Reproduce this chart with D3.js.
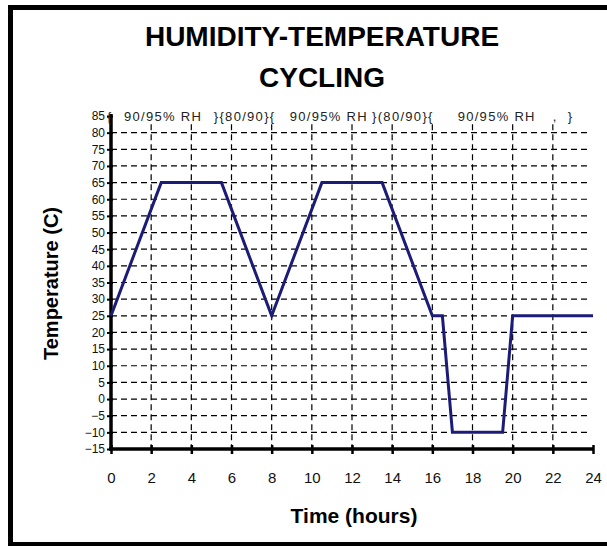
<!DOCTYPE html>
<html>
<head>
<meta charset="utf-8">
<script src="https://cdn.jsdelivr.net/npm/d3@7"></script>
<style>
  body { margin: 0; background: #fff; }
  svg { display: block; font-family: Arial, "Liberation Sans", sans-serif; }
</style>
</head>
<body>
<svg id="chart" width="607" height="546"></svg>
<script>
// chart values
var hours = [0, 2.5, 5.5, 8, 10.5, 13.5, 16, 16.5, 17, 19.5, 20, 24]
var temps = [25, 65, 65, 25, 65, 65, 25, 25, -10, -10, 25, 25]
var xTicks = [0, 2, 4, 6, 8, 10, 12, 14, 16, 18, 20, 22, 24]
var yTicks = [-15, -10, -5, 0, 5, 10, 15, 20, 25, 30, 35, 40, 45, 50, 55, 60, 65, 70, 75, 80, 85]
var titleLines = ['HUMIDITY-TEMPERATURE', 'CYCLING']
// humidity notes along the top row (hour where each piece starts)
var rhText = ['{', '90/95% RH', '}{80/90}{', '90/95% RH', '}(80/90}{', '90/95% RH', ',', '}']
var rhHour = [-0.2, 0.65, 5.12, 8.9, 13.0, 17.26, 22.0, 22.74]

var svg = d3.select('#chart')

// outer frame (right side runs off the picture)
svg.append('rect')
  .attr('x', 10.5).attr('y', 7.5)
  .attr('width', 620).attr('height', 537)
  .attr('fill', 'none').attr('stroke', '#000').attr('stroke-width', 5)

var x = d3.scaleLinear().domain([0, 24]).range([111, 593])
var y = d3.scaleLinear().domain([-15, 85]).range([449, 116])

svg.selectAll('text.title')
  .data(titleLines)
  .enter().append('text')
  .attr('class', 'title')
  .attr('x', 322)
  .attr('y', (d, i) => 46 + i * 41)
  .attr('text-anchor', 'middle')
  .attr('font-size', 28).attr('font-weight', 'bold')
  .text((d) => d)

// grid
var grid = svg.append('g').attr('stroke', '#000').attr('stroke-width', 1.2).attr('stroke-dasharray', '6,4')
grid.selectAll('line.h')
  .data(yTicks.filter((v) => v > -15 && v < 85))
  .enter().append('line')
  .attr('x1', x(0)).attr('x2', x(24) - 2)
  .attr('y1', (d) => y(d)).attr('y2', (d) => y(d))
grid.selectAll('line.v')
  .data(xTicks.filter((v) => v > 0 && v < 24))
  .enter().append('line')
  .attr('x1', (d) => x(d)).attr('x2', (d) => x(d))
  .attr('y1', y(82.5)).attr('y2', y(-15))

// axes
var yAxis = svg.append('g').attr('transform', `translate(${x(0)},0)`)
  .call(d3.axisLeft(y).tickValues(yTicks).tickSize(4).tickPadding(2))
yAxis.select('.domain').attr('stroke-width', 3.5).attr('d', `M0,${y(85) - 2}V${y(-15)}`)
yAxis.selectAll('.tick line').attr('stroke-width', 2).attr('x2', -4).attr('x1', 2)
yAxis.selectAll('.tick text').attr('font-size', 12).attr('font-family', 'Arial, sans-serif').attr('fill', '#111')

var xAxis = svg.append('g').attr('transform', `translate(0,${y(-15)})`)
  .call(d3.axisBottom(x).tickValues(xTicks).tickSize(5).tickPadding(18))
xAxis.select('.domain').attr('stroke-width', 3.5).attr('d', `M${x(0) - 2},0H${x(24) + 1}`)
xAxis.selectAll('.tick line').attr('stroke-width', 2.5).attr('y1', -4).attr('y2', 5)
xAxis.selectAll('.tick text').attr('font-size', 15).attr('font-family', 'Arial, sans-serif').attr('fill', '#111')

// humidity notes (drawn over the axis so the first brace shows)
svg.selectAll('text.rh')
  .data(rhText)
  .enter().append('text')
  .attr('class', 'rh')
  .attr('x', (d, i) => x(rhHour[i]))
  .attr('y', y(85) + 5)
  .attr('font-size', 13)
  .attr('letter-spacing', 1.3)
  .attr('fill', '#222')
  .text((d) => d)

// temperature profile
var line = d3.line()
  .x((d) => x(d[0]))
  .y((d) => y(d[1]))

svg.append('path')
  .datum(hours.map((h, i) => [h, temps[i]]))
  .attr('d', line)
  .attr('fill', 'none')
  .attr('stroke', '#1c1c78')
  .attr('stroke-width', 3)
  .attr('stroke-linejoin', 'miter')

// axis titles
svg.append('text')
  .attr('transform', `translate(58,${(y(85) + y(-15)) / 2 + 1}) rotate(-90)`)
  .attr('text-anchor', 'middle')
  .attr('font-size', 20).attr('font-weight', 'bold')
  .text('Temperature (C)')

svg.append('text')
  .attr('x', 354).attr('y', 523)
  .attr('text-anchor', 'middle')
  .attr('font-size', 21).attr('font-weight', 'bold')
  .text('Time (hours)')
</script>
</body>
</html>
